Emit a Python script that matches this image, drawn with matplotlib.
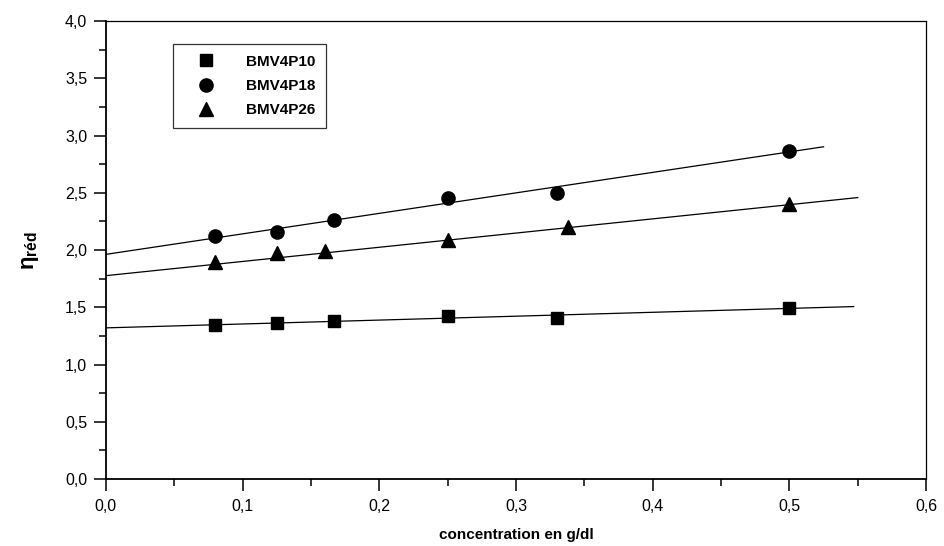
import numpy as np
import matplotlib
matplotlib.use("Agg")
import matplotlib.pyplot as plt
from matplotlib.ticker import MultipleLocator, FuncFormatter

plt.rcParams['font.family'] = ['Liberation Sans', 'DejaVu Sans']
plt.rcParams['mathtext.fontset'] = 'custom'
plt.rcParams['mathtext.rm'] = 'Liberation Sans'
plt.rcParams['mathtext.bf'] = 'Liberation Sans:bold'
plt.rcParams['mathtext.it'] = 'Liberation Sans:italic'

# Data
labels = ["BMV4P10", "BMV4P18", "BMV4P26"]
x_p10 = [0.08, 0.125, 0.167, 0.25, 0.33, 0.50]
y_p10 = [1.345, 1.366, 1.38, 1.427, 1.409, 1.491]
x_p18 = [0.08, 0.125, 0.167, 0.25, 0.33, 0.50]
y_p18 = [2.12, 2.16, 2.265, 2.455, 2.50, 2.862]
x_p26 = [0.08, 0.125, 0.16, 0.25, 0.338, 0.50]
y_p26 = [1.895, 1.975, 1.995, 2.09, 2.20, 2.40]
# Fitted straight lines
fit_intercept = [1.32, 1.962, 1.776]
fit_slope = [0.34, 1.79, 1.24]
fit_end = [0.547, 0.525, 0.55]
x_ticks = [0.0, 0.1, 0.2, 0.3, 0.4, 0.5, 0.6]
y_ticks = [0.0, 0.5, 1.0, 1.5, 2.0, 2.5, 3.0, 3.5, 4.0]

fig = plt.figure(figsize=(9.45, 5.46), dpi=100)
ax = fig.add_axes([0.112, 0.1227, 0.868, 0.8388])

markers = ['s', 'o', '^']
msizes = [8.6, 9.5, 10]
series = [(x_p10, y_p10), (x_p18, y_p18), (x_p26, y_p26)]
for (xs, ys), m, ms, lab, a, b, xe in zip(series, markers, msizes, labels,
                                          fit_intercept, fit_slope, fit_end):
    ax.plot(xs, ys, linestyle='none', marker=m, markersize=ms, color='black',
            label=lab, zorder=3)
    xx = np.array([0.0, xe])
    ax.plot(xx, a + b * xx, color='black', lw=0.9, zorder=2)

ax.set_xlim(0, 0.6)
ax.set_ylim(0, 4.0)
ax.set_xticks(x_ticks)
ax.set_yticks(y_ticks)
ax.xaxis.set_minor_locator(MultipleLocator(0.05))
ax.yaxis.set_minor_locator(MultipleLocator(0.25))
fmt = FuncFormatter(lambda v, p: f"{v:.1f}".replace('.', ','))
ax.xaxis.set_major_formatter(fmt)
ax.yaxis.set_major_formatter(fmt)
ax.tick_params(which='major', direction='out', length=8.5, width=1.1, labelsize=11.5)
ax.tick_params(axis='x', which='major', pad=6)
ax.tick_params(axis='y', which='major', pad=5)
ax.tick_params(which='minor', direction='out', length=5, width=1.1)
ax.tick_params(axis='x', which='both', top=False)
ax.tick_params(axis='y', which='both', right=False)
ax.spines['left'].set_linewidth(1.3)
ax.spines['bottom'].set_linewidth(1.3)
ax.spines['top'].set_linewidth(0.9)
ax.spines['right'].set_linewidth(0.9)

ax.set_xlabel("concentration en g/dl", fontsize=11, fontweight='bold', labelpad=10)
ax.set_ylabel(r'$\mathbf{\eta}_{\mathbf{réd}}$', fontsize=16, labelpad=17)

leg = ax.legend(loc='upper left', bbox_to_anchor=(0.0817, 0.95), borderaxespad=0,
                frameon=True, fancybox=False, edgecolor='black',
                prop={'weight': 'bold', 'size': 11}, handletextpad=1.1,
                labelspacing=0.68, borderpad=0.7, handlelength=3.0, markerscale=1.0)
leg.get_frame().set_linewidth(0.9)

fig.savefig("out.png", dpi=100)
